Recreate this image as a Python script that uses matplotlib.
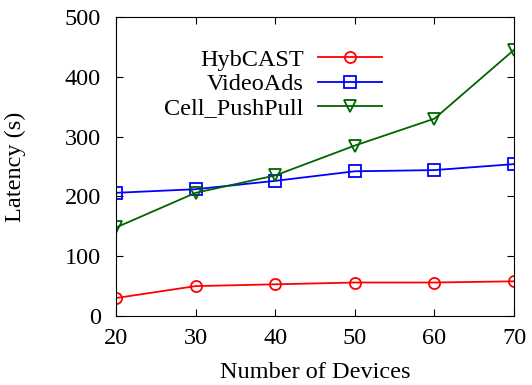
import numpy as np
import matplotlib
matplotlib.use('Agg')
import matplotlib.pyplot as plt

devices = [20, 30, 40, 50, 60, 70]
hybcast = [30, 50, 53, 56, 56, 58]
videoads = [206, 212, 226, 242, 244, 254]
pushpull = [148, 206, 235, 285, 330, 445]

plt.rcParams['font.family'] = 'Liberation Serif'
plt.rcParams['font.size'] = 17.5

fig = plt.figure(figsize=(5.32, 3.85), dpi=100)
ax = fig.add_axes([116/532, 1-316/385, (514-116)/532, (316-17)/385])

ax.plot(devices, hybcast, color='red', marker='o', mfc='none', ms=8, lw=1.3, mew=1.3, label='HybCAST')
ax.plot(devices, videoads, color='blue', marker='s', mfc='none', ms=8, lw=1.3, mew=1.3, label='VideoAds')
ax.plot(devices, pushpull, color='#006400', marker='v', mfc='none', ms=9, lw=1.3, mew=1.3, label='Cell_PushPull')

ax.set_xlim(20, 70)
ax.set_ylim(0, 500)
ax.set_xticks(devices)
ax.set_yticks(np.arange(0, 501, 100))
ax.tick_params(direction='in', top=True, right=True, length=5)
ax.tick_params(axis='x', pad=9)
ax.tick_params(axis='y', pad=11)
ax.set_xlabel('Number of Devices', labelpad=9)
ax.set_ylabel('Latency (s)', labelpad=28)

leg = ax.legend(loc='upper right', bbox_to_anchor=(0.698, 0.935), frameon=False, markerfirst=False,
                handlelength=2.6, labelspacing=0.1, handletextpad=0.6, borderpad=0)

plt.savefig('out.png', dpi=100)
